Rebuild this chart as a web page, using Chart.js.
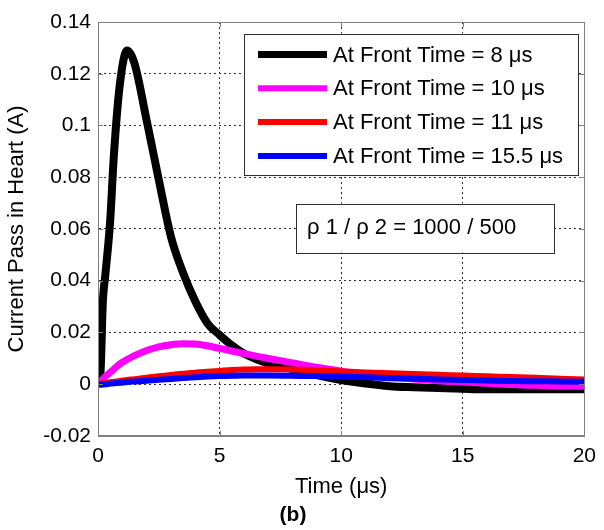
<!DOCTYPE html>
<html><head><meta charset="utf-8">
<script src="https://cdn.jsdelivr.net/npm/chart.js@4.4.1/dist/chart.umd.min.js"></script>
<style>html,body{margin:0;padding:0;background:#fff;} #wrap{width:604px;height:530px;}</style>
</head><body><div id="wrap"><canvas id="c" width="604" height="530"></canvas></div>
<script>
// ---- data ----
const timeUs = [0,0.1,0.2,0.3,0.5,0.65,0.9,1.2,1.5,2,2.5,3,3.5,4,4.5,5,5.5,6,6.5,7,8,9,10,11,12,13,14,15,16,17,18,19,20];
const currentFt8 = [0,0.004,0.032,0.042,0.063,0.088,0.116,0.129,0.124,0.102,0.079,0.057,0.043,0.032,0.0235,0.019,0.015,0.0118,0.0097,0.008,0.0058,0.0035,0.0016,0.0002,-0.0008,-0.0012,-0.0015,-0.0018,-0.002,-0.002,-0.002,-0.002,-0.002];
const currentFt10 = [0,0.001,0.002,0.0029,0.0045,0.0058,0.0078,0.0095,0.011,0.013,0.0144,0.0152,0.0156,0.0155,0.0148,0.0138,0.0128,0.0118,0.0108,0.0099,0.0082,0.0065,0.005,0.0038,0.0028,0.002,0.0013,0.0008,0.0003,-0.0002,-0.0005,-0.0008,-0.0008];
const currentFt11 = [0,0.0002,0.0003,0.0004,0.0007,0.0009,0.0012,0.0016,0.0019,0.0025,0.003,0.0035,0.004,0.0044,0.0048,0.0051,0.0054,0.0056,0.0057,0.0057,0.0056,0.0053,0.0049,0.0045,0.0042,0.0039,0.0036,0.0033,0.003,0.0027,0.0024,0.0021,0.0018];
const currentFt155 = [-0.0003,-0.0003,-0.0002,-0.0001,0.0002,0.0003,0.0005,0.0008,0.001,0.0013,0.0017,0.002,0.0023,0.0026,0.0029,0.0031,0.0032,0.0033,0.0033,0.0033,0.0032,0.0031,0.0029,0.0026,0.0023,0.0021,0.0018,0.0016,0.0014,0.0012,0.0011,0.001,0.0009];
const seriesLabels = ['At Front Time = 8 \u03bcs','At Front Time = 10 \u03bcs','At Front Time = 11 \u03bcs','At Front Time = 15.5 \u03bcs'];
const seriesColors = ['#000000','#ff00ff','#ff0000','#0000ff'];
const xTickValues = [0,5,10,15,20];
const xTickLabels = ['0','5','10','15','20'];
const yTickValues = [-0.02,0,0.02,0.04,0.06,0.08,0.1,0.12,0.14];
const yTickLabels = ['-0.02','0','0.02','0.04','0.06','0.08','0.1','0.12','0.14'];
const annotationText = '\u03c1 1 / \u03c1 2 = 1000 / 500';

// ---- styles ----
const FONT = "'Liberation Sans', Arial, sans-serif";
const lineWidths = [8,7,6,6];
const series = [currentFt8, currentFt10, currentFt11, currentFt155];

const datasets = series.map((ys,i)=>({
  label: seriesLabels[i],
  data: timeUs.map((t,j)=>({x:t,y:ys[j]})),
  borderColor: seriesColors[i],
  backgroundColor: seriesColors[i],
  borderWidth: lineWidths[i],
  pointRadius: 0,
  fill: false,
  cubicInterpolationMode: 'monotone',
  borderJoinStyle: 'round',
  order: 4 - i
}));

function lookup(vals, labels, v){
  const k = vals.findIndex(t=>Math.abs(t-v)<1e-9);
  return k >= 0 ? labels[k] : '';
}

const overlay = {
  id: 'overlay',
  afterDatasetsDraw(chart){
    const ctx = chart.ctx, ca = chart.chartArea;
    const xs = chart.scales.x, ys = chart.scales.y;
    ctx.save();
    // frame
    ctx.setLineDash([]);
    ctx.strokeStyle = '#808080'; ctx.lineWidth = 1;
    ctx.strokeRect(Math.round(ca.left)+0.5, Math.round(ca.top)+0.5, Math.round(ca.right-ca.left), Math.round(ca.bottom-ca.top));
    // inward tick marks
    ctx.beginPath();
    xTickValues.forEach(v=>{
      const px = Math.round(xs.getPixelForValue(v))+0.5;
      ctx.moveTo(px, ca.bottom); ctx.lineTo(px, ca.bottom-5);
      ctx.moveTo(px, ca.top); ctx.lineTo(px, ca.top+5);
    });
    yTickValues.forEach(v=>{
      const py = Math.round(ys.getPixelForValue(v))+0.5;
      ctx.moveTo(ca.left, py); ctx.lineTo(ca.left+5, py);
      ctx.moveTo(ca.right, py); ctx.lineTo(ca.right-5, py);
    });
    ctx.stroke();

    // legend box
    const lx = ca.left + 146, ly = ca.top + 11.5, lw = 334, lh = 141;
    ctx.fillStyle = '#ffffff';
    ctx.fillRect(lx, ly, lw, lh);
    ctx.strokeStyle = '#303030'; ctx.lineWidth = 1;
    ctx.strokeRect(Math.round(lx)+0.5, Math.round(ly)+0.5, lw, lh);
    ctx.font = '22px ' + FONT;
    ctx.textBaseline = 'middle'; ctx.textAlign = 'left';
    seriesLabels.forEach((lab,i)=>{
      const ry = ly + 21 + i*33.8;
      ctx.strokeStyle = seriesColors[i];
      ctx.lineWidth = i===0 ? 7 : 6;
      ctx.lineCap = 'butt';
      ctx.beginPath(); ctx.moveTo(lx+14, ry); ctx.lineTo(lx+83, ry); ctx.stroke();
      ctx.fillStyle = '#000';
      ctx.fillText(lab, lx+89, ry+1);
    });

    // annotation box
    const ax = ca.left + 198, ay = ca.top + 181.5, aw = 258, ah = 49;
    ctx.fillStyle = '#ffffff';
    ctx.fillRect(ax, ay, aw, ah);
    ctx.strokeStyle = '#303030'; ctx.lineWidth = 1;
    ctx.strokeRect(Math.round(ax)+0.5, Math.round(ay)+0.5, aw, ah);
    ctx.fillStyle = '#000';
    ctx.font = '22px ' + FONT;
    ctx.fillText(annotationText, ax + 11, ay + ah/2);
    ctx.restore();
  }
};

new Chart(document.getElementById('c'), {
  type: 'line',
  data: { datasets },
  plugins: [overlay],
  options: {
    responsive: false,
    animation: false,
    layout: { padding: { top: 22, right: 18, left: 0, bottom: 0 } },
    plugins: {
      legend: { display: false },
      tooltip: { enabled: false },
      title: {
        display: true, position: 'bottom', text: '(b)', color: '#000',
        font: { family: FONT, size: 21, weight: 'bold', lineHeight: 1.2 },
        padding: { top: 0, bottom: 2 }
      }
    },
    scales: {
      x: {
        type: 'linear', min: 0, max: 20,
        afterBuildTicks: s => { s.ticks = xTickValues.map(v=>({value:v})); },
        afterFit: s => { s.height = 67; },
        ticks: { color: '#000', font: { family: FONT, size: 21 }, padding: 8, maxRotation: 0,
                 callback: v => lookup(xTickValues, xTickLabels, v) },
        grid: { color: '#333', lineWidth: 1, drawTicks: false },
        border: { display: true, color: '#808080', width: 1, dash: [2,3] },
        title: { display: true, text: 'Time (\u03bcs)', color: '#000',
                 font: { family: FONT, size: 22, lineHeight: 1.2 }, padding: { top: 0, bottom: 3 } }
      },
      y: {
        type: 'linear', min: -0.02, max: 0.14,
        afterBuildTicks: s => { s.ticks = yTickValues.map(v=>({value:v})); },
        afterFit: s => { s.width = 98; },
        ticks: { color: '#000', font: { family: FONT, size: 21 }, padding: 7,
                 callback: v => lookup(yTickValues, yTickLabels, v) },
        grid: { color: '#333', lineWidth: 1, drawTicks: false },
        border: { display: true, color: '#808080', width: 1, dash: [2,3] },
        title: { display: true, text: 'Current Pass in Heart (A)', color: '#000',
                 font: { family: FONT, size: 22, lineHeight: 1.2 }, padding: { top: 4, bottom: 0 } }
      }
    }
  }
});
</script>
</body></html>
